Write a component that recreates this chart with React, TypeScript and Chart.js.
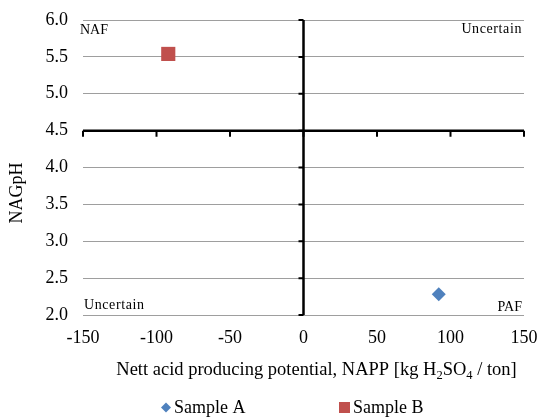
import React, { useEffect, useRef } from 'react';
import { Chart, registerables } from 'chart.js';

Chart.register(...registerables);

// ---- data ----
const seriesNames = ['Sample A', 'Sample B'];
const nappValues = [92, -92];
const nagphValues = [2.28, 5.54];
const seriesColors = ['#4f81bd', '#c0504d'];
const seriesShapes = ['rectRot', 'rect'];
const xTickValues = [-150, -100, -50, 0, 50, 100, 150];
const yTickValues = [2.0, 2.5, 3.0, 3.5, 4.0, 4.5, 5.0, 5.5, 6.0];
const quadrantLabels = { topLeft: 'NAF', topRight: 'Uncertain', bottomLeft: 'Uncertain', bottomRight: 'PAF' };
const yTitle = 'NAGpH';
const xTitleParts: [string, boolean][] = [
  ['Nett acid producing potential, NAPP [kg H', false],
  ['2', true],
  ['SO', false],
  ['4', true],
  [' / ton]', false],
];
const xCross = 0;
const yCross = 4.5;

const FONT = '"Liberation Serif", "Times New Roman", serif';

const annotPlugin = {
  id: 'annot',
  beforeDatasetsDraw(chart: any) {
    const { ctx, chartArea, scales } = chart;
    const xs = scales.x;
    const ys = scales.y;
    const x0 = xs.getPixelForValue(xCross);
    const y0 = ys.getPixelForValue(yCross);
    ctx.save();
    ctx.strokeStyle = '#000';
    ctx.lineWidth = 2.5;
    ctx.beginPath();
    ctx.moveTo(chartArea.left, y0);
    ctx.lineTo(chartArea.right, y0);
    ctx.moveTo(x0, chartArea.top);
    ctx.lineTo(x0, chartArea.bottom);
    ctx.stroke();
    ctx.lineWidth = 2;
    ctx.beginPath();
    xTickValues.forEach((v) => {
      const px = xs.getPixelForValue(v);
      ctx.moveTo(px, y0);
      ctx.lineTo(px, y0 + 6);
    });
    yTickValues.forEach((v) => {
      const py = ys.getPixelForValue(v);
      ctx.moveTo(x0, py);
      ctx.lineTo(x0 - 5, py);
    });
    ctx.stroke();
    ctx.restore();
  },
  afterDraw(chart: any) {
    const { ctx, chartArea } = chart;
    ctx.save();
    ctx.fillStyle = '#000';
    // quadrant labels
    ctx.font = `14px ${FONT}`;
    ctx.textBaseline = 'middle';
    ctx.textAlign = 'left';
    ctx.fillText(quadrantLabels.topLeft, chartArea.left - 3, chartArea.top + 10);
    ctx.letterSpacing = '0.6px';
    ctx.fillText(quadrantLabels.bottomLeft, chartArea.left + 1, chartArea.bottom - 10);
    ctx.textAlign = 'right';
    ctx.fillText(quadrantLabels.topRight, chartArea.right - 2, chartArea.top + 9);
    ctx.letterSpacing = '0px';
    ctx.fillText(quadrantLabels.bottomRight, chartArea.right - 2, chartArea.bottom - 8);

    // y title
    ctx.save();
    ctx.translate(17, 193);
    ctx.rotate(-Math.PI / 2);
    ctx.textAlign = 'center';
    ctx.textBaseline = 'middle';
    ctx.font = `18px ${FONT}`;
    ctx.fillText(yTitle, 0, 0);
    ctx.restore();

    // x title with subscripts
    const big = `18.5px ${FONT}`;
    const small = `12.5px ${FONT}`;
    let total = 0;
    xTitleParts.forEach(([t, sub]) => {
      ctx.font = sub ? small : big;
      total += ctx.measureText(t).width;
    });
    let x = 316.5 - total / 2;
    ctx.textAlign = 'left';
    ctx.textBaseline = 'alphabetic';
    const base = 375;
    xTitleParts.forEach(([t, sub]) => {
      ctx.font = sub ? small : big;
      ctx.fillText(t, x, sub ? base + 4 : base);
      x += ctx.measureText(t).width;
    });

    // legend
    const legendX = [166, 344.5];
    const ly = 407.5;
    ctx.font = `18px ${FONT}`;
    ctx.textBaseline = 'middle';
    seriesNames.forEach((name, i) => {
      const cx = legendX[i];
      ctx.fillStyle = seriesColors[i];
      ctx.beginPath();
      if (seriesShapes[i] === 'rectRot') {
        ctx.moveTo(cx - 5, ly);
        ctx.lineTo(cx, ly - 5);
        ctx.lineTo(cx + 5, ly);
        ctx.lineTo(cx, ly + 5);
        ctx.closePath();
      } else {
        ctx.rect(cx - 5.5, ly - 5.5, 11, 11);
      }
      ctx.fill();
      ctx.fillStyle = '#000';
      ctx.fillText(name, cx + (i === 0 ? 8 : 8.5), ly + 1);
    });
    ctx.restore();
  },
};

const zeroPad = (s: any) => {
  s.paddingTop = 0;
  s.paddingBottom = 0;
  s.paddingLeft = 0;
  s.paddingRight = 0;
};

export default function App() {
  const ref = useRef<HTMLCanvasElement>(null);
  useEffect(() => {
    document.body.style.margin = '0';
    const canvas = ref.current!;
    const chart = new Chart(canvas, {
      type: 'scatter',
      data: {
        datasets: seriesNames.map((name, i) => ({
          label: name,
          data: [{ x: nappValues[i], y: nagphValues[i] }],
          backgroundColor: seriesColors[i],
          borderColor: seriesColors[i],
          borderWidth: 0,
          pointStyle: seriesShapes[i] as any,
          pointRadius: seriesShapes[i] === 'rect' ? 10 : 7,
        })),
      },
      options: {
        responsive: false,
        animation: false,
        layout: { padding: { left: 0, right: 17, top: 20, bottom: 0 } },
        plugins: { legend: { display: false }, tooltip: { enabled: false } },
        scales: {
          x: {
            type: 'linear',
            min: -150,
            max: 150,
            afterBuildTicks: (s: any) => { s.ticks = xTickValues.map((v) => ({ value: v })); },
            ticks: {
              font: { family: FONT, size: 18 },
              color: '#000',
              padding: 12,
              maxRotation: 0,
              autoSkip: false,
            },
            grid: { display: false, drawTicks: false },
            border: { display: false },
            afterFit: (s: any) => { s.height = 104; zeroPad(s); },
          },
          y: {
            type: 'linear',
            min: 2,
            max: 6,
            afterBuildTicks: (s: any) => { s.ticks = yTickValues.map((v) => ({ value: v })); },
            ticks: {
              font: { family: FONT, size: 18 },
              color: '#000',
              padding: 15,
              callback: (v: any) => Number(v).toFixed(1),
            },
            grid: { color: '#9e9e9e', lineWidth: 1, drawTicks: false },
            border: { display: false },
            afterFit: (s: any) => { s.width = 83; zeroPad(s); },
          },
        },
      },
      plugins: [annotPlugin],
    });
    return () => chart.destroy();
  }, []);
  return (
    <div style={{ width: 541, height: 419 }}>
      <canvas ref={ref} width={541} height={419} style={{ display: 'block' }} />
    </div>
  );
}
